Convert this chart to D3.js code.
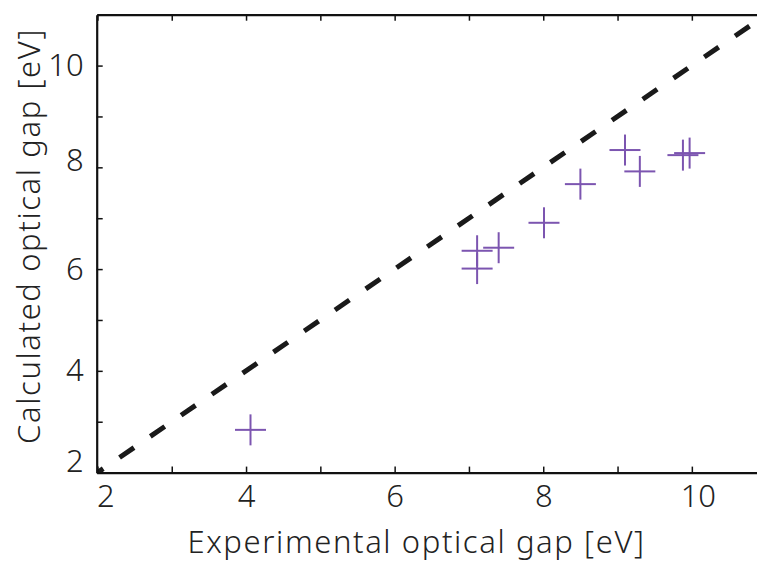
<!DOCTYPE html>
<html>
<head>
<meta charset="utf-8">
<script src="https://cdn.jsdelivr.net/npm/d3@7/dist/d3.min.js"></script>
<style>
  html, body { margin: 0; padding: 0; background: #fff; }
  svg { display: block; }
  text { font-family: "Noto Sans", "DejaVu Sans", sans-serif; fill: #222; font-weight: 300; }
</style>
</head>
<body>
<svg id="chart" width="757" height="562"></svg>
<script>
// ---- data ----
const experimentalGap = [4.06, 7.11, 7.11, 7.40, 8.01, 8.50, 9.10, 9.30, 9.88, 9.97];
const calculatedGap   = [2.84, 6.36, 6.01, 6.42, 6.91, 7.67, 8.34, 7.92, 8.24, 8.28];
const xTicks = [2, 3, 4, 5, 6, 7, 8, 9, 10];
const yTicks = [2, 3, 4, 5, 6, 7, 8, 9, 10];
const xTickLabels = ["2", "", "4", "", "6", "", "8", "", "10"];
const yTickLabels = ["2", "", "4", "", "6", "", "8", "", "10"];
const xDomain = [1.99, 11];
const yDomain = [2, 11];
const diagonal = [2, 11];
const xTitle = "Experimental optical gap [eV]";
const yTitle = "Calculated optical gap [eV]";

// ---- layout ----
const svg = d3.select("#chart");
const mLeft = 96.7, mTop = 14.7, mBottom = 472.6;
const x = d3.scaleLinear().domain(xDomain).range([mLeft, mLeft + (xDomain[1] - xDomain[0]) * 74.3]);
const y = d3.scaleLinear().domain(yDomain).range([mBottom, mTop]);

svg.append("clipPath").attr("id", "clip")
  .append("rect").attr("x", mLeft).attr("y", mTop).attr("width", 800).attr("height", mBottom - mTop);

// diagonal dashed line y = x
svg.append("line")
  .attr("clip-path", "url(#clip)")
  .attr("x1", x(diagonal[0])).attr("y1", y(diagonal[0]))
  .attr("x2", x(diagonal[1])).attr("y2", y(diagonal[1]))
  .attr("stroke", "#1a1a1a")
  .attr("stroke-width", 5)
  .attr("stroke-dasharray", "17.5,19.8")
  .attr("stroke-dashoffset", 10.5);

// crosses
const half = 15.5;
const pts = experimentalGap.map((v, i) => [v, calculatedGap[i]]);
const g = svg.append("g");
pts.forEach(([a, b]) => {
  const cx = x(a), cy = y(b);
  g.append("line").attr("x1", cx - half).attr("x2", cx + half).attr("y1", cy).attr("y2", cy)
    .attr("stroke", "#7c55b0").attr("stroke-width", 2);
  g.append("line").attr("x1", cx).attr("x2", cx).attr("y1", cy - half).attr("y2", cy + half)
    .attr("stroke", "#7c55b0").attr("stroke-width", 2);
});

// axes
const fontSize = 31;
const xAxis = d3.axisBottom(x).tickValues(xTicks).tickSizeInner(-6).tickSizeOuter(0).tickPadding(12)
  .tickFormat((d, i) => xTickLabels[i]);
const yAxis = d3.axisLeft(y).tickValues(yTicks).tickSizeInner(-6).tickSizeOuter(0).tickPadding(13)
  .tickFormat((d, i) => yTickLabels[i]);
const topAxis = d3.axisTop(x).tickValues(xTicks).tickSizeInner(-6).tickSizeOuter(0).tickFormat("");

function styleAxis(sel) {
  sel.select(".domain").attr("stroke", "#111").attr("stroke-width", 2.2);
  sel.selectAll(".tick line").attr("stroke", "#111").attr("stroke-width", 1.5);
  sel.selectAll(".tick text").attr("font-size", fontSize).attr("fill", "#222")
    .style("font-family", '"Noto Sans", sans-serif').style("font-weight", 300);
}

const gx = svg.append("g").attr("transform", `translate(0,${mBottom})`).call(xAxis).call(styleAxis);
const gy = svg.append("g").attr("transform", `translate(${mLeft},0)`).call(yAxis).call(styleAxis);
const gt = svg.append("g").attr("transform", `translate(0,${mTop})`).call(topAxis).call(styleAxis);

// nudge corner labels away from the origin
gx.selectAll(".tick text").filter(d => d === 2).attr("dx", 8);
gx.selectAll(".tick text").filter(d => d === 10).attr("dx", 6);
gy.selectAll(".tick text").filter(d => d === 2).attr("transform", "translate(0,-11)");
gy.selectAll(".tick text").filter(d => d === 8).attr("transform", "translate(0,-7)");

// titles
const titleSize = 31;
svg.append("text").attr("x", 416.5).attr("y", 552.5).attr("text-anchor", "middle")
  .attr("font-size", titleSize).attr("letter-spacing", 1.6).text(xTitle);
svg.append("text").attr("transform", "translate(40,236) rotate(-90)").attr("text-anchor", "middle")
  .attr("font-size", titleSize).attr("letter-spacing", 1.6).text(yTitle);
</script>
</body>
</html>
